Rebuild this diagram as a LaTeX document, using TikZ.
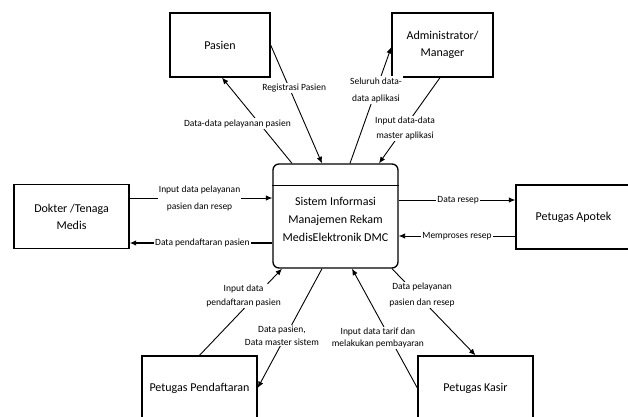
\documentclass[tikz,border=0pt]{standalone}
\usepackage{fontspec}
\setmainfont{Carlito}
\usetikzlibrary{arrows.meta}

\begin{document}
\begin{tikzpicture}[x=1pt, y=-1pt, >={Latex[length=6.5pt,width=5.5pt]}, line width=0.9pt,
    box/.style={draw, line width=1.3pt, minimum width=115pt, minimum height=64pt, align=center, font=\fontsize{12}{17}\selectfont},
    lbl/.style={fill=white, inner sep=1pt, align=center, font=\fontsize{9.5}{14}\selectfont}]
    \useasboundingbox (0,0) rectangle (628,416);
    \clip (0,0) rectangle (628,416);

    % entitas luar
    \node[box, minimum width=100pt] at (220,45) (pasien) {Pasien};
    \node[box, minimum width=101pt] at (442.5,45) (admin) {Administrator/\\Manager};
    \node[box] at (71.5,216.5) (dokter) {Dokter /Tenaga\\Medis};
    \node[box] at (573.5,217) (apotek) {Petugas Apotek};
    \node[box] at (199.5,388) (daftar) {Petugas Pendaftaran};
    \node[box] at (475.5,388) (kasir) {Petugas Kasir};

    % proses
    \node[draw, line width=1.3pt, rounded corners=6pt, minimum width=125pt, minimum height=104pt, align=center,
          font=\fontsize{12}{18}\selectfont, text depth=0pt] at (335.5,216) (sistem)
          {\\[-4pt]Sistem Informasi\\Manajemen Rekam\\MedisElektronik DMC};
    \draw ([yshift=-22pt]sistem.north west) -- ([yshift=-22pt]sistem.north east);

    % atas
    \draw[->] (pasien.east) -- ([xshift=-13.5pt]sistem.north) node[lbl, pos=0.36, xshift=5pt] {Registrasi Pasien};
    \draw[->] ([xshift=-43.5pt]sistem.north) -- ([xshift=2pt]pasien.south) node[lbl, pos=0.465, xshift=-22pt] {Data-data pelayanan pasien};
    \draw[->] ([xshift=14.5pt]sistem.north) -- ([yshift=-2pt]admin.west) node[lbl, pos=0.63, font=\fontsize{9.5}{17}\selectfont] {Seluruh data-\\data aplikasi};
    \draw[->] ([xshift=-2.5pt]admin.south) -- ([xshift=43.5pt]sistem.north) node[lbl, pos=0.59, xshift=1pt, font=\fontsize{9.5}{15}\selectfont] {Input data-data\\master aplikasi};

    % kiri
    \draw[->] ([yshift=18.5pt]dokter.east) -- ([yshift=18pt]sistem.west) node[lbl, pos=0.49, font=\fontsize{9.5}{17}\selectfont] {Input data pelayanan\\pasien dan resep};
    \draw[->, line width=1.8pt] ([yshift=-27pt]sistem.west) -- ([yshift=-26.5pt]dokter.east) node[lbl, pos=0.49] {Data pendaftaran pasien};

    % kanan
    \draw[->] ([yshift=16pt]sistem.east) -- ([yshift=17pt]apotek.west) node[lbl, pos=0.51] {Data resep};
    \draw[->] ([yshift=-19pt]apotek.west) -- ([yshift=-20pt]sistem.east) node[lbl, pos=0.5] {Memproses resep};

    % bawah
    \draw[->] (daftar.north) -- ([xshift=-53.5pt]sistem.south) node[lbl, pos=0.68, xshift=-12pt] {Input data\\pendaftaran pasien};
    \draw[->] ([xshift=-13.5pt]sistem.south) -- (daftar.east) node[lbl, pos=0.56, xshift=-4pt, font=\fontsize{9.5}{13}\selectfont] {Data pasien,\\Data master sistem};
    \draw[->] (kasir.west) -- ([xshift=16.5pt]sistem.south) node[lbl, pos=0.42, xshift=-12pt, font=\fontsize{9.5}{12.5}\selectfont] {Input data tarif dan\\melakukan pembayaran};
    \draw[->] ([xshift=56.5pt]sistem.south) -- (kasir.north) node[lbl, pos=0.3, xshift=5pt, font=\fontsize{9.5}{16}\selectfont] {Data pelayanan\\pasien dan resep};
\end{tikzpicture}
\end{document}
